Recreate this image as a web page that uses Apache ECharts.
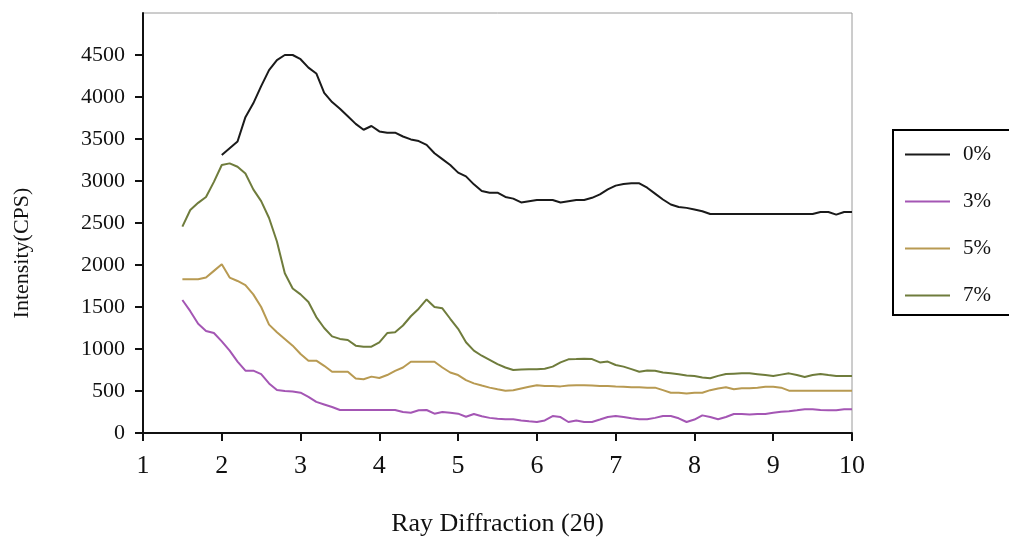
<!DOCTYPE html>
<html>
<head>
<meta charset="utf-8">
<script src="https://cdn.jsdelivr.net/npm/echarts@6/dist/echarts.min.js"></script>
<style>
  html, body { margin: 0; padding: 0; background: #fff; }
  #chart { width: 1009px; height: 537px; }
</style>
</head>
<body>
<div id="chart"></div>
<script>
var chart = echarts.init(document.getElementById('chart'));

// 2θ positions shared by all curves
const xValues = [1.5, 1.6, 1.7, 1.8, 1.9, 2.0, 2.1, 2.2, 2.3, 2.4, 2.5, 2.6, 2.7, 2.8, 2.9,
  3.0, 3.1, 3.2, 3.3, 3.4, 3.5, 3.6, 3.7, 3.8, 3.9, 4.0, 4.1, 4.2, 4.3, 4.4, 4.5, 4.6, 4.7, 4.8, 4.9,
  5.0, 5.1, 5.2, 5.3, 5.4, 5.5, 5.6, 5.7, 5.8, 5.9, 6.0, 6.1, 6.2, 6.3, 6.4, 6.5, 6.6, 6.7, 6.8, 6.9,
  7.0, 7.1, 7.2, 7.3, 7.4, 7.5, 7.6, 7.7, 7.8, 7.9, 8.0, 8.1, 8.2, 8.3, 8.4, 8.5, 8.6, 8.7, 8.8, 8.9,
  9.0, 9.1, 9.2, 9.3, 9.4, 9.5, 9.6, 9.7, 9.8, 9.9, 10.0];

const names = ['0%', '3%', '5%', '7%'];
const colors = ['#1a1a1a', '#a456b4', '#b89a52', '#6f7c3c'];

// intensity (CPS)
const s0 = [null, null, null, null, null, 3310, 3390, 3470, 3760, 3925, 4130, 4320, 4440, 4500, 4500,
  4450, 4350, 4280, 4050, 3940, 3860, 3770, 3680, 3610, 3655, 3590, 3575, 3575, 3530, 3495, 3475, 3430, 3330, 3260, 3190,
  3100, 3055, 2960, 2880, 2861, 2861, 2810, 2790, 2745, 2760, 2774, 2774, 2774, 2745, 2760, 2774, 2774, 2800, 2840, 2900,
  2945, 2965, 2972, 2972, 2920, 2850, 2780, 2720, 2690, 2680, 2660, 2640, 2607, 2607, 2607, 2607, 2607, 2607, 2607, 2607,
  2607, 2607, 2607, 2607, 2607, 2607, 2631, 2631, 2600, 2631, 2631];
const s3 = [1583, 1450, 1300, 1215, 1190, 1090, 980, 850, 742, 742, 700, 590, 512, 500, 495,
  480, 430, 370, 340, 310, 274, 274, 274, 274, 274, 274, 274, 274, 250, 242, 270, 274, 230, 250, 242,
  230, 194, 226, 200, 180, 170, 163, 163, 150, 140, 131, 150, 202, 190, 131, 150, 131, 131, 160, 190,
  202, 190, 175, 163, 163, 180, 202, 202, 175, 131, 160, 210, 190, 163, 190, 226, 226, 220, 226, 226,
  240, 254, 260, 270, 282, 282, 275, 270, 270, 282, 282];
const s5 = [1830, 1830, 1830, 1850, 1930, 2010, 1850, 1810, 1760, 1650, 1500, 1290, 1200, 1120, 1040,
  940, 861, 861, 800, 730, 730, 730, 650, 640, 671, 655, 690, 740, 780, 849, 849, 849, 849, 780, 720,
  690, 630, 591, 565, 540, 520, 504, 510, 530, 550, 568, 560, 560, 555, 565, 568, 568, 565, 560, 560,
  555, 551, 545, 545, 540, 540, 510, 480, 480, 470, 480, 480, 510, 530, 544, 520, 532, 532, 540, 551,
  551, 540, 504, 504, 504, 504, 504, 504, 504, 504, 504];
const s7 = [2456, 2655, 2740, 2810, 2990, 3190, 3210, 3170, 3090, 2900, 2760, 2560, 2280, 1901, 1720,
  1650, 1560, 1380, 1250, 1150, 1120, 1107, 1040, 1028, 1028, 1080, 1190, 1200, 1280, 1390, 1480, 1590, 1500, 1484, 1360,
  1240, 1080, 980, 920, 870, 820, 780, 750, 755, 760, 760, 765, 790, 840, 877, 880, 885, 880, 840, 850,
  810, 790, 760, 730, 745, 740, 720, 710, 700, 685, 679, 660, 651, 680, 702, 706, 710, 710, 700, 690,
  679, 695, 710, 690, 667, 690, 702, 690, 679, 679, 679];

const yTicks = [0, 500, 1000, 1500, 2000, 2500, 3000, 3500, 4000, 4500, 5000];
const xTicks = [1, 2, 3, 4, 5, 6, 7, 8, 9, 10];

function pairs(vals) {
  return xValues.map(function (x, i) { return [x, vals[i]]; })
    .filter(function (p) { return p[1] !== null; });
}

const font = 'Liberation Serif';
const allSeries = [s0, s3, s5, s7];
// plain line swatch for the legend
const lineIcon = 'path://M0,0 L100,0 L100,4 L0,4 Z';

const option = {
  animation: false,
  backgroundColor: '#fff',
  grid: {
    left: 143, top: 13, width: 709, height: 420,
    outerBoundsMode: 'none',
    show: true, borderColor: '#9a9a9a', borderWidth: 1
  },
  legend: {
    orient: 'vertical',
    left: 893, top: 130,
    data: names.map(function (n) { return { name: n, icon: lineIcon }; }),
    itemWidth: 45, itemHeight: 20, itemGap: 26,
    padding: [14, 40, 9, 12],
    borderColor: '#000', borderWidth: 2,
    textStyle: { fontFamily: font, fontSize: 21, color: '#111', padding: [0, 0, 0, 8] }
  },
  xAxis: {
    type: 'value', min: xTicks[0], max: xTicks[xTicks.length - 1], interval: 1,
    name: 'Ray Diffraction (2θ)', nameLocation: 'middle', nameGap: 78,
    nameTextStyle: { fontFamily: font, fontSize: 26, color: '#111' },
    axisLine: { lineStyle: { color: '#111', width: 2 } },
    axisTick: { show: true, inside: false, length: 8, lineStyle: { width: 2, color: '#111' } },
    axisLabel: { fontFamily: font, fontSize: 26, color: '#111', margin: 20 },
    splitLine: { show: false }
  },
  yAxis: {
    type: 'value', min: yTicks[0], max: yTicks[yTicks.length - 1], interval: 500,
    name: 'Intensity(CPS)', nameLocation: 'middle', nameGap: 110,
    nameTextStyle: { fontFamily: font, fontSize: 22, color: '#111', padding: [0, 60, 0, 0] },
    axisLine: { show: true, lineStyle: { color: '#111', width: 2 } },
    axisTick: { show: true, inside: false, length: 8, lineStyle: { width: 2, color: '#111' } },
    axisLabel: {
      fontFamily: font, fontSize: 22, color: '#111', margin: 18, showMaxLabel: false,
      formatter: function (v) { return String(v); }
    },
    splitLine: { show: false }
  },
  series: names.map(function (n, i) {
    return {
      name: n,
      type: 'line',
      symbol: 'none',
      data: pairs(allSeries[i]),
      lineStyle: { color: colors[i], width: 2 },
      itemStyle: { color: colors[i] }
    };
  })
};
chart.setOption(option);
</script>
</body>
</html>
